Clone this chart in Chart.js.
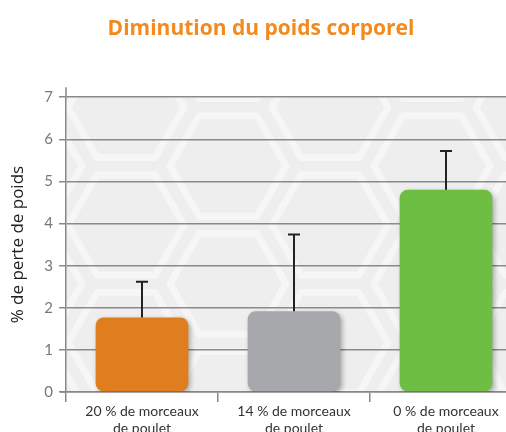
<!DOCTYPE html>
<html>
<head>
<meta charset="utf-8">
<script src="https://cdn.jsdelivr.net/npm/chart.js@4/dist/chart.umd.min.js"></script>
<style>
  html, body { margin: 0; padding: 0; background: #fff; overflow: hidden; }
</style>
</head>
<body>
<canvas id="poids" width="522" height="445"></canvas>
<script>
const categories = [
  ['20 % de morceaux', 'de poulet'],
  ['14 % de morceaux', 'de poulet'],
  ['0 % de morceaux', 'de poulet']
];
const perte = [1.77, 1.92, 4.8];
const ecart = [0.85, 1.82, 0.92];
const couleurs = ['#e07d1e', '#a7a8ab', '#6fbe44'];
const yTicks = [0, 1, 2, 3, 4, 5, 6, 7];

// fond gris avec motif d'hexagones
const fond = {
  id: 'fond',
  beforeDraw(chart) {
    const { ctx, chartArea: a } = chart;
    ctx.save();
    ctx.fillStyle = '#eeeeee';
    ctx.fillRect(a.left, a.top, a.right - a.left, a.bottom - a.top);
    ctx.beginPath();
    ctx.rect(a.left, a.top, a.right - a.left, a.bottom - a.top);
    ctx.clip();
    ctx.strokeStyle = 'rgba(255,255,255,0.45)';
    ctx.lineWidth = 7;
    ctx.lineJoin = 'round';
    const r = 68, w = r * 1.5, h = r * Math.sqrt(3);
    for (let i = -1; i < 7; i++) {
      for (let j = -1; j < 4; j++) {
        const cx = a.left + 60 + i * w;
        const cy = a.top + 10 + j * h + (i % 2 ? h / 2 : 0);
        ctx.beginPath();
        for (let k = 0; k < 6; k++) {
          const ang = Math.PI / 3 * k;
          const px = cx + (r - 10) * Math.cos(ang), py = cy + (r - 10) * Math.sin(ang);
          k ? ctx.lineTo(px, py) : ctx.moveTo(px, py);
        }
        ctx.closePath();
        ctx.stroke();
      }
    }
    ctx.restore();
  },
  afterDraw(chart) {
    // axe vertical qui dépasse un peu au-dessus de 7
    const { ctx, chartArea: a } = chart;
    ctx.save();
    ctx.strokeStyle = '#888';
    ctx.lineWidth = 1.5;
    ctx.beginPath();
    ctx.moveTo(a.left, a.top);
    ctx.lineTo(a.left, a.top - 10);
    ctx.moveTo(a.left, a.bottom);
    ctx.lineTo(a.left - 6, a.bottom);
    ctx.stroke();
    ctx.restore();
  }
};

// ombre des barres
const ombre = {
  id: 'ombre',
  beforeDatasetDraw(chart) {
    const ctx = chart.ctx;
    ctx.save();
    ctx.shadowColor = 'rgba(0,0,0,0.3)';
    ctx.shadowBlur = 5;
    ctx.shadowOffsetX = 2;
    ctx.shadowOffsetY = 2;
  },
  afterDatasetDraw(chart) {
    chart.ctx.restore();
  }
};

// barres d'erreur (seulement vers le haut)
const erreurs = {
  id: 'erreurs',
  afterDatasetsDraw(chart) {
    const { ctx, scales: { y } } = chart;
    const meta = chart.getDatasetMeta(0);
    ctx.save();
    ctx.strokeStyle = '#222';
    ctx.lineWidth = 2;
    meta.data.forEach((bar, i) => {
      const yb = y.getPixelForValue(perte[i]);
      const yt = y.getPixelForValue(perte[i] + ecart[i]);
      ctx.beginPath();
      ctx.moveTo(bar.x, yb);
      ctx.lineTo(bar.x, yt);
      ctx.moveTo(bar.x - 6, yt);
      ctx.lineTo(bar.x + 6, yt);
      ctx.stroke();
    });
    ctx.restore();
  }
};

new Chart(document.getElementById('poids'), {
  type: 'bar',
  data: {
    labels: categories,
    datasets: [{
      data: perte,
      backgroundColor: couleurs,
      borderRadius: 8,
      borderSkipped: false,
      categoryPercentage: 1,
      barPercentage: 0.61
    }]
  },
  options: {
    responsive: false,
    animation: false,
    plugins: {
      legend: { display: false },
      tooltip: { enabled: false },
      title: {
        display: true,
        text: 'Diminution du poids corporel',
        color: '#f28a1e',
        font: { family: 'Open Sans', size: 21, weight: 'bold' },
        padding: { top: 16, bottom: 56 }
      }
    },
    scales: {
      x: {
        afterFit: s => { s.height = 53; },
        grid: { drawOnChartArea: false, color: '#888', lineWidth: 1.5, tickLength: 10 },
        border: { color: '#888', width: 1.5 },
        ticks: {
          color: '#333',
          font: { family: 'Lato', size: 14 },
          padding: 1
        }
      },
      y: {
        min: 0,
        max: 7,
        afterFit: s => { s.width = 66; },
        afterBuildTicks: s => { s.ticks = yTicks.map(v => ({ value: v })); },
        grid: { color: '#8a8a8a', lineWidth: 1.5, tickLength: 7 },
        border: { color: '#888', width: 1.5 },
        ticks: {
          color: '#777',
          font: { family: 'Lato', size: 15 },
          padding: 6
        },
        title: {
          display: true,
          text: '% de perte de poids',
          color: '#222',
          font: { family: 'Open Sans', size: 17 },
          padding: { top: 8, bottom: 0 }
        }
      }
    }
  },
  plugins: [fond, ombre, erreurs]
});
</script>
</body>
</html>
